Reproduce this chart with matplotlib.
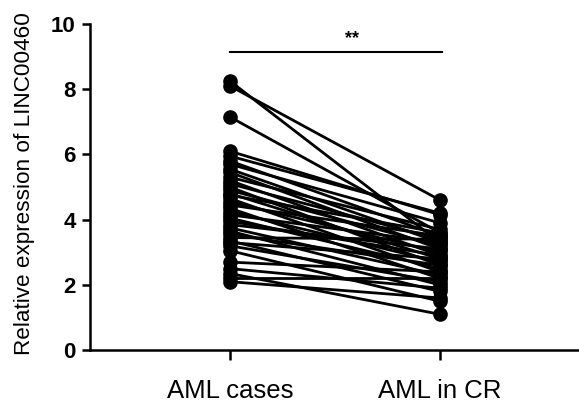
import matplotlib.pyplot as plt
import numpy as np

plt.rcParams['font.family'] = ['Liberation Sans', 'DejaVu Sans']

groups = ['AML cases', 'AML in CR']
# paired values, one pair per patient
aml_cases = [8.25, 8.1, 7.15, 6.1, 5.95, 5.8, 5.7, 5.55, 5.45, 5.3, 5.2, 5.1, 5.0,
             4.9, 4.8, 4.75, 4.65, 4.55, 4.45, 4.35, 4.25, 4.15, 4.05, 3.95, 3.85,
             3.75, 3.65, 3.55, 3.45, 3.35, 3.3, 3.2, 3.05, 2.7, 2.5, 2.35, 2.2, 2.1]
aml_cr = [3.3, 4.6, 3.6, 4.15, 4.2, 3.5, 3.9, 3.3, 3.1, 3.7, 2.9, 3.4, 2.6,
          3.2, 2.8, 3.6, 2.4, 3.0, 3.5, 2.2, 2.7, 3.3, 2.5, 2.9, 3.1,
          2.3, 2.0, 2.6, 3.4, 1.8, 2.8, 2.1, 1.5, 2.4, 1.9, 1.1, 2.2, 1.6]
yticks = [0, 2, 4, 6, 8, 10]
sig_label = '**'

fig = plt.figure(figsize=(5.79, 4.12), dpi=100)
ax = fig.add_axes([0.155, 0.150, 0.845, 0.792])

for a, b in zip(aml_cases, aml_cr):
    ax.plot([0, 1], [a, b], color='black', lw=2.0, marker='o', ms=9.5,
            solid_capstyle='round', clip_on=False)

ax.plot([0, 1.01], [9.14, 9.14], color='black', lw=1.5)
ax.text(0.58, 9.3, sig_label, ha='center', va='bottom', fontsize=13, fontweight='bold')

ax.set_xlim(-0.667, 1.662)
ax.set_ylim(0, 10)
ax.set_xticks([0, 1])
ax.set_xticklabels(groups, fontsize=18.5)
ax.set_yticks(yticks)
ax.set_yticklabels([str(t) for t in yticks], fontsize=16, fontweight='bold')
ax.set_ylabel('Relative expression of LINC00460', fontsize=16.2)
ax.yaxis.set_label_coords(-0.112, 0.51)

for s in ['top', 'right']:
    ax.spines[s].set_visible(False)
for s in ['left', 'bottom']:
    ax.spines[s].set_linewidth(1.8)
ax.tick_params(axis='y', width=1.8, length=6, pad=4)
ax.tick_params(axis='x', width=1.8, length=7, pad=14)

fig.savefig('out.png', dpi=100)
